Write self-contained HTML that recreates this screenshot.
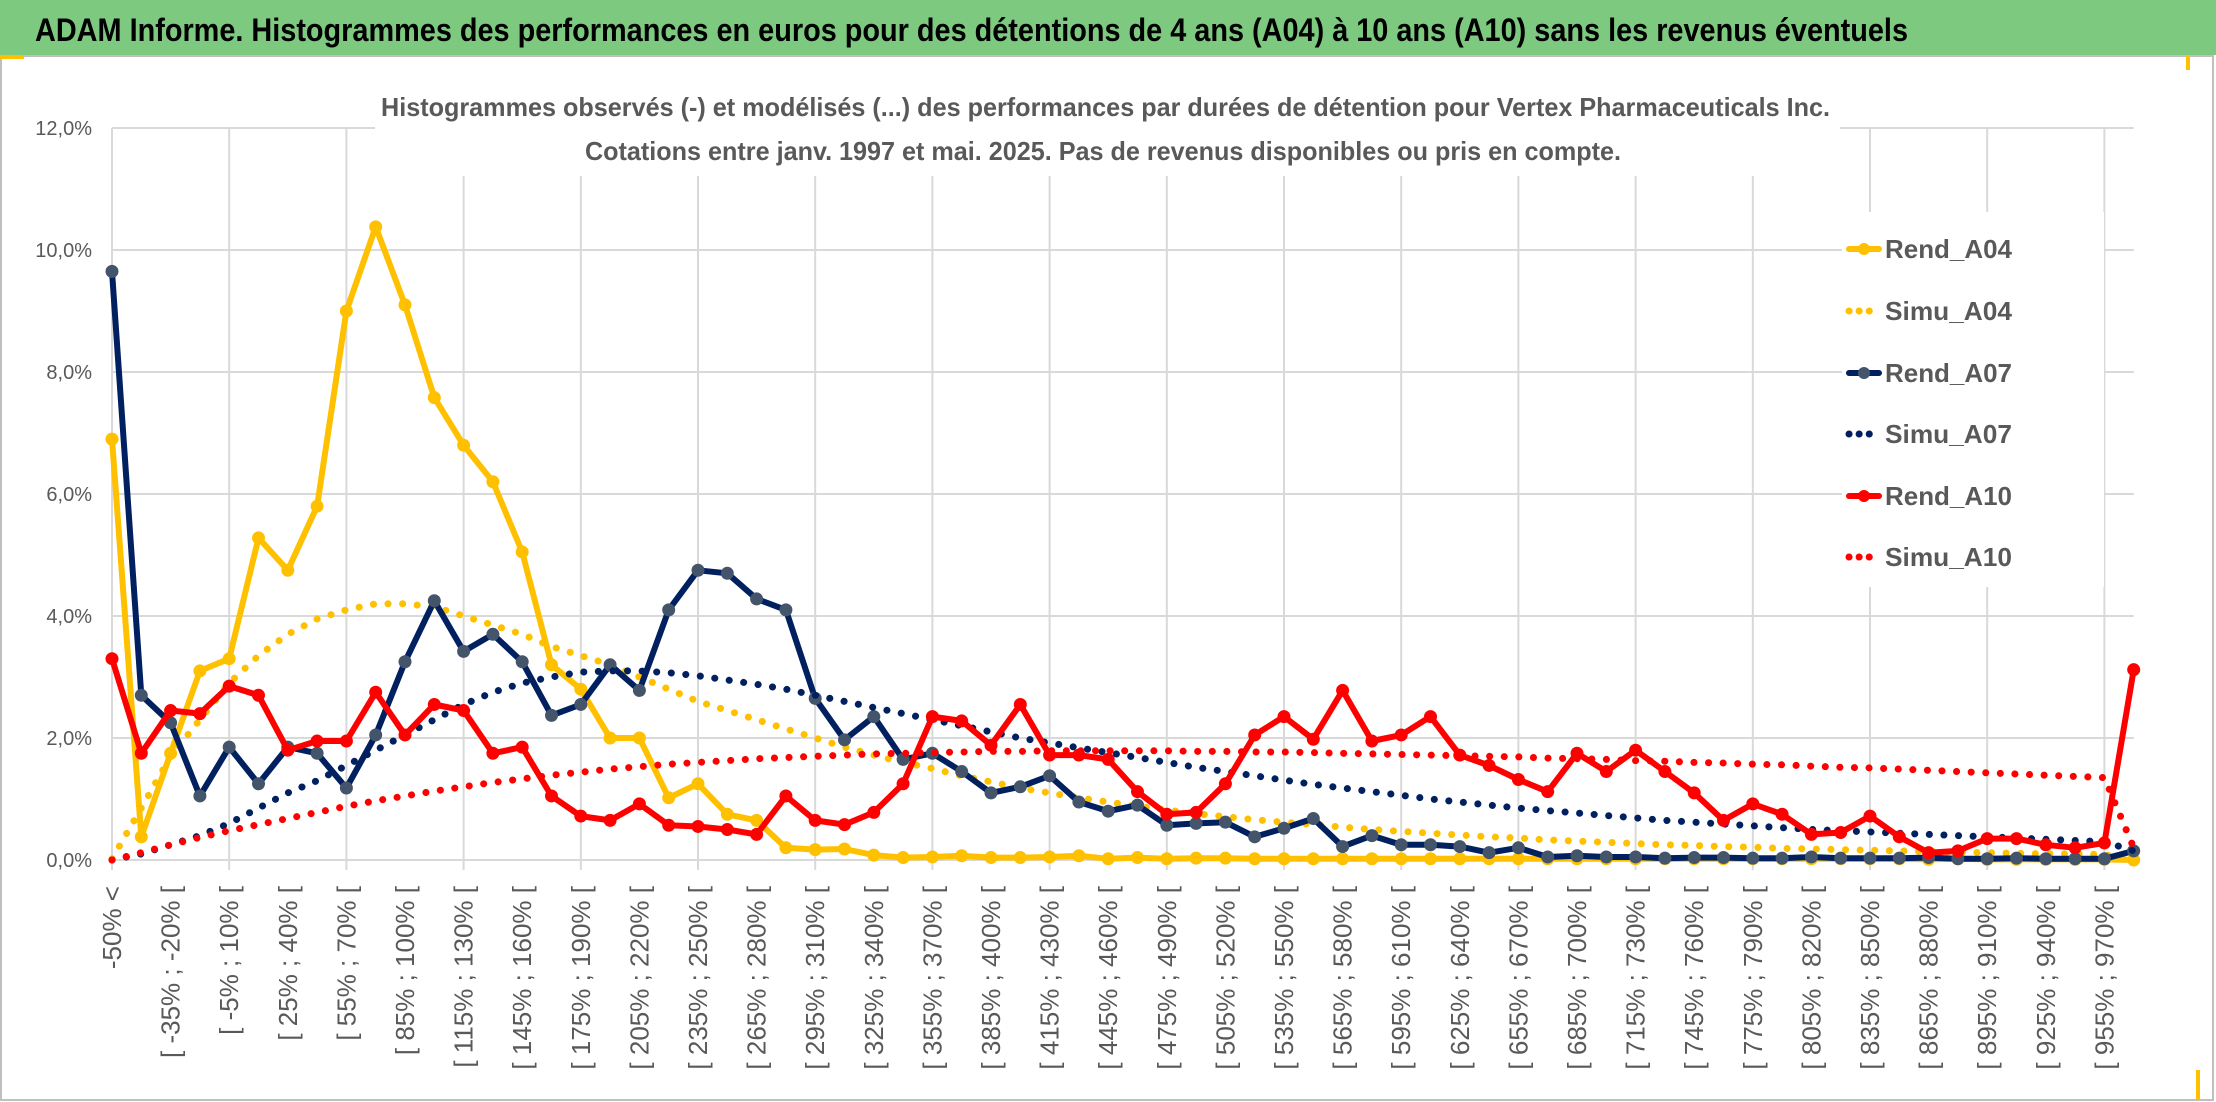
<!DOCTYPE html>
<html><head><meta charset="utf-8"><title>ADAM Informe - Vertex Pharmaceuticals</title>
<style>
html,body{margin:0;padding:0;background:#fff;}
svg{display:block;font-family:"Liberation Sans",sans-serif;}
</style></head>
<body>
<svg id="chart" width="2216" height="1102" viewBox="0 0 2216 1102" xmlns="http://www.w3.org/2000/svg">
  <rect x="0" y="0" width="2216" height="1102" fill="#fff"/>
  <rect x="1" y="56" width="2212" height="1044" fill="none" stroke="#bfbfbf" stroke-width="2"/>
  <rect x="0" y="0" width="2216" height="55" fill="#7dc97f"/>
  <rect x="0" y="55" width="24" height="4" fill="#ffc000"/>
  <rect x="2186" y="56" width="4" height="14" fill="#ffc000"/>
  <rect x="2196" y="1070" width="4" height="30" fill="#ffc000"/>
  <text x="35" y="41" font-size="32" font-weight="bold" fill="#000" textLength="1873" lengthAdjust="spacingAndGlyphs">ADAM Informe. Histogrammes des performances en euros pour des détentions de 4 ans (A04) à 10 ans (A10) sans les revenus éventuels</text>
  <g id="grid"></g>
  <g id="yaxis"></g>
  <g id="xaxis"></g>
  <rect x="375" y="80" width="1465" height="96" fill="#fff"/>
  <text x="381" y="116" font-size="26" font-weight="bold" fill="#595959" textLength="1449" lengthAdjust="spacingAndGlyphs">Histogrammes observés (-) et modélisés (...) des performances par durées de détention pour Vertex Pharmaceuticals Inc.</text>
  <text x="585" y="160" font-size="26" font-weight="bold" fill="#595959" textLength="1036" lengthAdjust="spacingAndGlyphs">Cotations entre janv. 1997 et mai. 2025. Pas de revenus disponibles ou pris en compte.</text>
  <g id="series"></g>
  <g id="legend"></g>
</svg>
<script>
const categories = (function(){ const c=["-50% <"]; for(let k=1;k<70;k++){const a=-50+15*(k-1);c.push("[ "+a+"% ; "+(a+15)+"% [");} return c; })();
const yTicks = [0,2,4,6,8,10,12];
const yTickLabels = ["0,0%","2,0%","4,0%","6,0%","8,0%","10,0%","12,0%"];
const seriesNames = ["Rend_A04","Simu_A04","Rend_A07","Simu_A07","Rend_A10","Simu_A10"];
const rendA04 = [6.9,0.38,1.75,3.1,3.3,5.28,4.75,5.8,9.0,10.38,
 9.1,7.58,6.8,6.2,5.05,3.2,2.8,2.0,2.0,1.02,
 1.25,0.75,0.65,0.2,0.17,0.18,0.08,0.04,0.05,0.07,
 0.04,0.04,0.05,0.07,0.02,0.04,0.02,0.03,0.03,0.02,
 0.02,0.02,0.02,0.02,0.02,0.02,0.02,0.02,0.02,0.02,
 0.02,0.02,0.02,0.02,0.02,0.02,0.02,0.02,0.02,0.02,
 0.02,0.02,0.01,0.02,0.01,0.01,0.01,0.01,0.01,0.0];
const simuA04 = [0.02,0.85,1.7,2.3,2.9,3.35,3.7,3.95,4.1,4.2,
 4.2,4.15,4.0,3.85,3.7,3.5,3.35,3.2,3.0,2.8,
 2.6,2.45,2.3,2.15,2.0,1.85,1.72,1.6,1.5,1.38,
 1.28,1.18,1.1,1.02,0.95,0.88,0.82,0.76,0.71,0.66,
 0.62,0.58,0.54,0.5,0.47,0.44,0.41,0.38,0.36,0.33,
 0.31,0.29,0.27,0.25,0.24,0.22,0.21,0.19,0.18,0.17,
 0.16,0.15,0.14,0.13,0.12,0.11,0.1,0.1,0.09,0.0];
const rendA07 = [9.65,2.7,2.25,1.05,1.85,1.25,1.85,1.75,1.18,2.05,
 3.25,4.25,3.42,3.7,3.25,2.37,2.55,3.2,2.78,4.1,
 4.75,4.7,4.28,4.1,2.65,1.97,2.35,1.65,1.75,1.45,
 1.1,1.2,1.38,0.95,0.8,0.9,0.57,0.6,0.62,0.38,
 0.52,0.68,0.22,0.4,0.25,0.25,0.22,0.12,0.2,0.05,
 0.07,0.05,0.05,0.03,0.04,0.04,0.03,0.03,0.05,0.03,
 0.03,0.03,0.04,0.02,0.02,0.03,0.02,0.02,0.02,0.15];
const simuA07 = [0.0,0.1,0.25,0.4,0.6,0.85,1.1,1.3,1.55,1.8,
 2.05,2.3,2.55,2.75,2.9,3.0,3.08,3.1,3.1,3.07,
 3.02,2.95,2.88,2.8,2.7,2.6,2.5,2.4,2.3,2.2,
 2.1,2.0,1.92,1.84,1.76,1.68,1.6,1.52,1.45,1.38,
 1.31,1.24,1.18,1.12,1.06,1.0,0.95,0.9,0.85,0.81,
 0.77,0.73,0.69,0.65,0.62,0.59,0.56,0.53,0.5,0.48,
 0.46,0.44,0.42,0.4,0.38,0.36,0.34,0.32,0.3,0.15];
const rendA10 = [3.3,1.75,2.45,2.4,2.85,2.7,1.8,1.95,1.95,2.75,
 2.05,2.55,2.45,1.75,1.85,1.05,0.72,0.65,0.92,0.57,
 0.55,0.5,0.42,1.05,0.65,0.58,0.78,1.25,2.35,2.28,
 1.88,2.55,1.72,1.72,1.65,1.12,0.75,0.78,1.25,2.05,
 2.35,1.98,2.78,1.95,2.05,2.35,1.72,1.55,1.32,1.12,
 1.75,1.45,1.8,1.45,1.1,0.65,0.92,0.75,0.42,0.45,
 0.72,0.38,0.12,0.15,0.35,0.35,0.25,0.2,0.28,3.12];
const simuA10 = [0.0,0.12,0.25,0.37,0.48,0.58,0.68,0.78,0.88,0.97,
 1.05,1.13,1.2,1.27,1.33,1.39,1.44,1.49,1.53,1.57,
 1.6,1.63,1.66,1.68,1.7,1.72,1.74,1.75,1.76,1.77,
 1.78,1.78,1.79,1.79,1.79,1.79,1.79,1.78,1.78,1.77,
 1.77,1.76,1.75,1.74,1.73,1.72,1.71,1.7,1.69,1.67,
 1.66,1.65,1.63,1.62,1.6,1.59,1.57,1.56,1.54,1.52,
 1.51,1.49,1.47,1.45,1.43,1.41,1.39,1.37,1.35,0.2];

const NS="http://www.w3.org/2000/svg";
const X0=112, XSTEP=29.3, Y0=860, YTOP=128, YMAX=12;
function xPos(i){ return X0 + i*XSTEP; }
function yPos(v){ return Y0 - (v/YMAX)*(Y0-YTOP); }
function mk(tag, attrs, parent){ const e=document.createElementNS(NS,tag); for(const k in attrs) e.setAttribute(k,attrs[k]); parent.appendChild(e); return e; }

const grid=document.getElementById('grid');
const XEND=xPos(categories.length-1);
yTicks.forEach(function(t){
  const l=mk('line',{x1:X0,x2:XEND,y1:yPos(t),y2:yPos(t),stroke:'#d9d9d9','stroke-width':2},grid);
  
  
});
for(let i=0;i<categories.length;i+=4){
  const l=mk('line',{x1:xPos(i),x2:xPos(i),y1:YTOP,y2:Y0+10,stroke:'#d9d9d9','stroke-width':2},grid);
  
  
}
const yaxis=document.getElementById('yaxis');
yTicks.forEach(function(t,i){
  const tx=mk('text',{x:92,y:yPos(t)+7,'text-anchor':'end','font-size':20,fill:'#595959'},yaxis);
  tx.textContent=yTickLabels[i];
  
  
});
const xaxis=document.getElementById('xaxis');
for(let i=0;i<categories.length;i+=2){
  const x=xPos(i)+9, y=886;
  const tx=mk('text',{x:x,y:y,'text-anchor':'end','font-size':26,fill:'#595959',transform:'rotate(-90 '+x+' '+y+')'},xaxis);
  tx.textContent=categories[i];
  
  
}

const styles=[
  {data:rendA04,color:'#ffc000',marker:'#ffc000',dotted:false},
  {data:simuA04,color:'#ffc000',dotted:true},
  {data:rendA07,color:'#002060',marker:'#44546a',dotted:false},
  {data:simuA07,color:'#002060',dotted:true},
  {data:rendA10,color:'#ff0000',marker:'#ff0000',dotted:false},
  {data:simuA10,color:'#ff0000',dotted:true}
];
const sg=document.getElementById('series');
styles.forEach(function(s,si){
  const g=mk('g',{},sg);
  
  
  const pts=s.data.map(function(v,i){return xPos(i).toFixed(1)+','+yPos(v).toFixed(1);}).join(' ');
  const attrs={points:pts,fill:'none',stroke:s.color,'stroke-linejoin':'round','stroke-linecap':'round'};
  if(s.dotted){ attrs['stroke-width']=7; attrs['stroke-dasharray']='0.1 14.5'; }
  else { attrs['stroke-width']=6; }
  const pl=mk('polyline',attrs,g);
  
  
  if(!s.dotted){
    s.data.forEach(function(v,i){
      const c=mk('circle',{cx:xPos(i),cy:yPos(v),r:6,fill:s.marker,stroke:s.marker},g);
      
      
    });
  }
});

const lg=document.getElementById('legend');
mk('rect',{x:1842,y:212,width:262,height:375,fill:'#fff'},lg);
const legendY=[249,311,373,434,496,557];
styles.forEach(function(s,si){
  const y=legendY[si];
  const item=mk('g',{},lg);
  
  
  const ln=mk('line',{x1:1849,x2:1879,y1:y,y2:y,stroke:s.color,'stroke-width':s.dotted?7:6,'stroke-linecap':'round'},item);
  if(s.dotted) ln.setAttribute('stroke-dasharray','0.1 10');
  
  
  if(!s.dotted){
    const c=mk('circle',{cx:1864,cy:y,r:6,fill:s.marker},item);
    
    
  }
  const t=mk('text',{x:1885,y:y+9,'font-size':26,'font-weight':'bold',fill:'#595959',textLength:127,lengthAdjust:'spacingAndGlyphs'},item);
  t.textContent=seriesNames[si];
  
  
});
</script>
</body></html>
